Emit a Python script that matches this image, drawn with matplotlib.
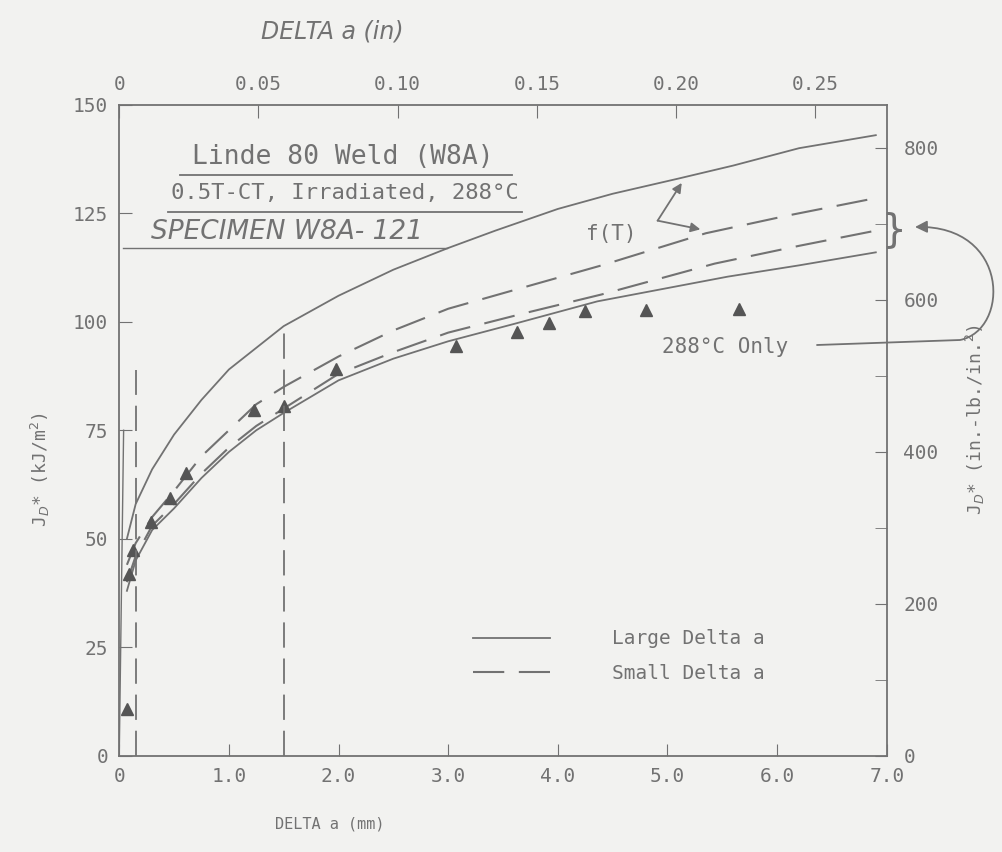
import numpy as np
import matplotlib.pyplot as plt
from matplotlib.patches import FancyArrowPatch
from matplotlib.path import Path

# Delta a in mm, J in kJ/m^2
large_x = [0.07, 0.15, 0.3, 0.5, 0.75, 1.0, 1.5, 2.0, 2.5, 3.0, 3.43, 4.0, 4.5, 5.1, 5.6, 6.2, 6.9]
large_j = [50, 58, 66, 74, 82, 89, 99, 106, 112, 117, 121, 126, 129.5, 133, 136, 140, 143]

small_hi_x = [0.07, 0.15, 0.3, 0.5, 0.75, 1.0, 1.25, 1.5, 2.0, 2.5, 3.0, 3.6, 4.4, 5.35, 6.1, 6.9]
small_hi_j = [44, 49, 55, 61, 69, 75, 81, 85, 92, 98, 103, 107.3, 113, 120.4, 124.5, 128.5]

small_lo_x = [0.07, 0.15, 0.3, 0.5, 0.75, 1.0, 1.25, 1.5, 2.0, 2.5, 3.0, 3.7, 4.4, 5.43, 6.2, 6.9]
small_lo_j = [40, 46, 53, 58, 65, 71, 76, 80, 88, 93, 97.5, 102, 106.3, 113.4, 117.5, 121]

only288_x = [0.07, 0.15, 0.3, 0.5, 0.75, 1.0, 1.25, 1.5, 2.0, 2.5, 3.0, 3.6, 4.36, 5.55, 6.2, 6.9]
only288_j = [38, 45, 52, 57, 64, 70, 75, 79, 86.5, 91.5, 95.5, 99.5, 104.7, 110.4, 113, 116]

pts_x = [0.07, 0.09, 0.13, 0.29, 0.46, 0.61, 1.23, 1.5, 1.98, 3.07, 3.63, 3.92, 4.25, 4.80, 5.65]
pts_j = [10.8, 41.8, 47.4, 53.9, 59.5, 65.1, 79.7, 80.6, 89.2, 94.4, 97.7, 99.8, 102.4, 102.6, 102.9]

# exclusion lines and blunting line
excl_x = [0.15, 1.5]
excl_top = [89, 98]
blunt_x = [0.0, 0.04]
blunt_j = [0, 75]

left_ticks = [0, 25, 50, 75, 100, 125, 150]
right_ticks = [0, 200, 400, 600, 800]
bottom_ticks = [0, 1, 2, 3, 4, 5, 6, 7]
bottom_labels = ['0', '1.0', '2.0', '3.0', '4.0', '5.0', '6.0', '7.0']
top_ticks = [0, 0.05, 0.10, 0.15, 0.20, 0.25]
top_labels = ['0', '0.05', '0.10', '0.15', '0.20', '0.25']

KJ_TO_INLB = 1 / 0.175127
MM_PER_IN = 25.4

ink = '#727272'
paper = '#f2f2f0'
mono = 'DejaVu Sans Mono'

W, H = 1002, 852
fig = plt.figure(figsize=(W / 100, H / 100), dpi=100, facecolor=paper)
ax = fig.add_axes([0.119, 0.113, 0.766, 0.764], facecolor=paper)


def fpx(px, py):
    return (px / W, 1 - py / H)


ax.plot(large_x, large_j, '-', color=ink, lw=1.3, label='Large Delta a')
ax.plot(small_hi_x, small_hi_j, color=ink, lw=1.5, dashes=(15, 7),
        label='Small Delta a')
ax.plot(small_lo_x, small_lo_j, color=ink, lw=1.5, dashes=(15, 7))
ax.plot(only288_x, only288_j, '-', color=ink, lw=1.3)
ax.plot(pts_x, pts_j, '^', color='#555555', ms=8, ls='none')

for x, top in zip(excl_x, excl_top):
    ax.plot([x, x], [0, top], color=ink, lw=1.3, dashes=(14, 6))
ax.plot(blunt_x, blunt_j, '-', color=ink, lw=1.0)

ax.set_xlim(0, 7)
ax.set_ylim(0, 150)
ax.set_xticks(bottom_ticks)
ax.set_xticklabels(bottom_labels)
ax.set_yticks(left_ticks)
ax.tick_params(direction='in', length=9, colors=ink, labelsize=14, pad=8)
for lab in ax.get_xticklabels() + ax.get_yticklabels():
    lab.set_family(mono)
for s in ax.spines.values():
    s.set_color(ink)
    s.set_linewidth(1.3)

# right axis in in.-lb./in.^2
ax2 = ax.twinx()
ax2.set_ylim(0, 150 * KJ_TO_INLB)
ax2.set_yticks(right_ticks)
ax2.set_yticks(np.arange(100, 900, 200), minor=True)
ax2.tick_params(direction='in', length=9, colors=ink, labelsize=14, pad=12)
ax2.tick_params(which='minor', direction='in', length=9, color=ink)
for lab in ax2.get_yticklabels():
    lab.set_family(mono)
for s in ax2.spines.values():
    s.set_visible(False)

# top axis in inches
axt = ax.secondary_xaxis('top', functions=(lambda v: v / MM_PER_IN,
                                           lambda v: v * MM_PER_IN))
axt.set_xticks(top_ticks)
axt.set_xticklabels(top_labels)
axt.tick_params(direction='in', length=9, colors=ink, labelsize=14, pad=8)
for lab in axt.get_xticklabels():
    lab.set_family(mono)
axt.spines['top'].set_visible(False)

fig.text(*fpx(332, 32), 'DELTA a (in)', ha='center', va='center',
         fontsize=17, style='italic', color=ink)
fig.text(*fpx(330, 824), 'DELTA a (mm)', ha='center', va='center',
         fontsize=11, family=mono, color=ink)
fig.text(*fpx(40, 470), r'J$_D$* (kJ/m$^2$)', ha='center', va='center',
         rotation=90, fontsize=13, family=mono, color=ink)
fig.text(*fpx(975, 420), r'J$_D$* (in.-lb./in.$^2$)', ha='center', va='center',
         rotation=90, fontsize=13, family=mono, color=ink)

# specimen block
fig.text(*fpx(343, 157), 'Linde 80 Weld (W8A)', ha='center', va='center',
         fontsize=19, family=mono, color=ink)
fig.add_artist(plt.Line2D([180 / W, 512 / W], [1 - 175 / H] * 2, color=ink, lw=1.3))
fig.text(*fpx(345, 193), '0.5T-CT, Irradiated, 288°C', ha='center', va='center',
         fontsize=16, family=mono, color=ink)
fig.add_artist(plt.Line2D([168 / W, 522 / W], [1 - 212 / H] * 2, color=ink, lw=1.3))
fig.text(*fpx(287, 232), 'SPECIMEN W8A- 121', ha='center', va='center',
         fontsize=19, style='italic', color=ink)
fig.add_artist(plt.Line2D([123 / W, 447 / W], [1 - 248 / H] * 2, color=ink, lw=1.0))

# f(T) callout
ax.text(4.49, 120.3, 'f(T)', ha='center', va='center', fontsize=15,
        family=mono, color=ink)
for tip in [(5.13, 132), (5.30, 121.3)]:
    ax.annotate('', xy=tip, xytext=(4.91, 123.3),
                arrowprops=dict(arrowstyle='-|>', color=ink, lw=1.3,
                                mutation_scale=14, shrinkA=0, shrinkB=0))

ax.text(5.53, 94.3, "288°C Only", ha='center', va='center', fontsize=15,
        family=mono, color=ink)
loop = Path([fpx(817, 345), fpx(960, 340), fpx(1010, 330), fpx(1010, 225),
             fpx(915, 227)],
            [Path.MOVETO, Path.LINETO, Path.CURVE4, Path.CURVE4, Path.CURVE4])
fig.add_artist(FancyArrowPatch(path=loop, transform=fig.transFigure,
                               arrowstyle='-|>', mutation_scale=18,
                               color=ink, lw=1.3))
fig.text(*fpx(893, 230), '}', ha='center', va='center', fontsize=28,
         color=ink)

ax.legend(loc='upper left', bbox_to_anchor=fpx(455, 612),
          bbox_transform=fig.transFigure, frameon=False, handlelength=4.0,
          handletextpad=3.2, labelspacing=0.8,
          prop=dict(family=mono, size=14), labelcolor=ink)

fig.savefig('out.png', dpi=100, facecolor=paper)
